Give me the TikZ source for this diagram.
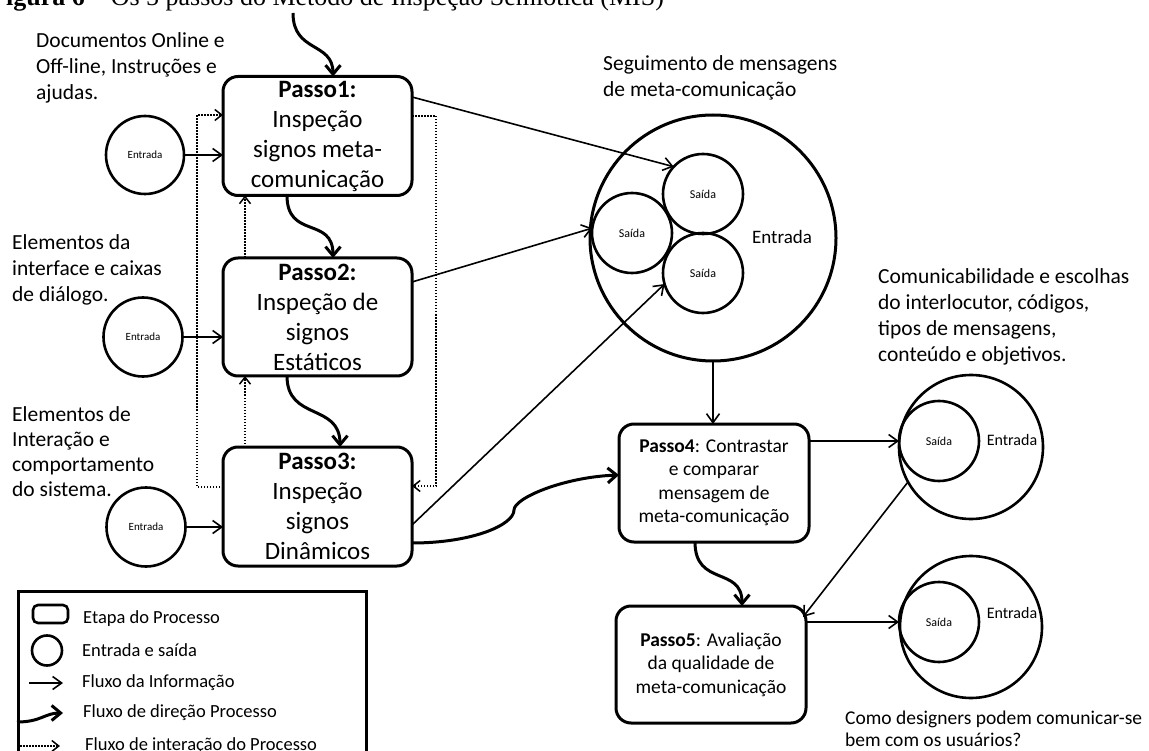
\documentclass[tikz,border=0pt]{standalone}
\usepackage{fontspec}
\setmainfont{Carlito}
\newfontfamily\capfont{Liberation Serif}
\usetikzlibrary{arrows.meta,calc}
\begin{document}
\begin{tikzpicture}[x=1pt,y=-1pt,
  stepbox/.style={draw,line width=3pt,rounded corners=15pt,minimum width=189pt,minimum height=119pt,inner sep=0pt,outer sep=0pt,align=center,font=\fontsize{25}{30}\selectfont},
  stepboxb/.style={stepbox,font=\fontsize{19.5}{23.5}\selectfont,minimum width=190pt,minimum height=118pt},
  io/.style={draw,circle,line width=2.6pt,inner sep=0pt,outer sep=0pt},
  info/.style={line width=1.6pt,-{Straight Barb[length=9pt,width=13pt]}},
  proc/.style={line width=3pt,-{Straight Barb[length=9pt,width=15pt]}},
  inter/.style={line width=1.5pt,dash pattern=on 1.5pt off 1.5pt,-{Straight Barb[length=7pt,width=11pt]}},
  note/.style={align=left,inner sep=0pt,anchor=west,font=\fontsize{21.5}{26}\selectfont},
  legtxt/.style={inner sep=0pt,anchor=west,font=\fontsize{18.5}{22}\selectfont}
]
\clip (0,0) rectangle (1149,751);
\fill[white] (0,0) rectangle (1149,751);

% caption (cropped)
\node[anchor=base west,inner sep=0pt,font=\capfont\fontsize{26}{30}\selectfont] (cap) at (-10,6) {\textbf{Figura 6} – Os 5 passos do Método de Inspeção Semiótica (MIS)};

% process steps
\node[stepbox] (p1) at (317.5,136) {\textbf{Passo1:}\\Inspeção\\signos meta-\\comunicação};
\node[stepbox,minimum height=118pt] (p2) at (317.5,317) {\textbf{Passo2:}\\Inspeção de\\signos\\Estáticos};
\node[stepbox] (p3) at (317.5,506.5) {\textbf{Passo3:}\\Inspeção\\signos\\Dinâmicos};
\node[stepboxb] (p4) at (714,483) {\textbf{Passo4}: Contrastar\\e comparar\\mensagem de\\meta-comunicação};
\node[stepboxb,minimum height=117pt] (p5) at (711,664.5) {\textbf{Passo5}: Avaliação\\da qualidade de\\meta-comunicação};

% inputs on the left
\node[io,minimum size=78pt,font=\fontsize{11}{13}\selectfont] (e1) at (145,155) {Entrada};
\node[io,minimum size=79pt,font=\fontsize{11}{13}\selectfont] (e2) at (143,337) {Entrada};
\node[io,minimum size=79pt,font=\fontsize{11}{13}\selectfont] (e3) at (146,527) {Entrada};

% big circle
\node[io,line width=3pt,minimum size=246pt] (big) at (713,238) {};
\node[inner sep=0pt,font=\fontsize{19}{22}\selectfont] (bigtxt) at (782,237) {Entrada};
\node[io,minimum size=80pt,font=\fontsize{12}{14}\selectfont] (s1) at (703,194) {Saída};
\node[io,minimum size=80pt,font=\fontsize{12}{14}\selectfont] (s2) at (632,233) {Saída};
\node[io,minimum size=80pt,font=\fontsize{12}{14}\selectfont] (s3) at (703,273) {Saída};

% right circles
\node[io,minimum size=144pt] (ca) at (971,447) {};
\node[io,minimum size=80pt,font=\fontsize{12}{14}\selectfont] (sa) at (939,441) {Saída};
\node[inner sep=0pt,font=\fontsize{16}{19}\selectfont] (catxt) at (1012,440) {Entrada};
\node[io,minimum size=142pt] (cb) at (971,627) {};
\node[io,minimum size=80pt,font=\fontsize{12}{14}\selectfont] (sb) at (939,622) {Saída};
\node[inner sep=0pt,font=\fontsize{16}{19}\selectfont] (cbtxt) at (1012,613) {Entrada};

% notes
\node[note] (t1) at (36,68) {Documentos Online e\\Off-line, Instruções e\\ajudas.};
\node[note] (t2) at (12,270) {Elementos da\\interface e caixas\\de diálogo.};
\node[note,font=\fontsize{21.5}{25}\selectfont] (t3) at (12,452) {Elementos de\\Interação e\\comportamento\\do sistema.};
\node[note] (t4) at (603,78) {Seguimento de mensagens\\de meta-comunicação};
\node[note] (t5) at (878,317) {Comunicabilidade e escolhas\\do interlocutor, códigos,\\tipos de mensagens,\\conteúdo e objetivos.};
\node[note,font=\fontsize{19.5}{22}\selectfont] (t6) at (845,729) {Como designers podem comunicar-se\\bem com os usuários?};

% information flow
\draw[info] (e1) -- (e1 -| p1.west);
\draw[info] (e2) -- (e2 -| p2.west);
\draw[info] (e3) -- (e3 -| p3.west);
\draw[info] ([shift={(0,-39)}]p1.east) -- (s1.137);
\draw[info] ([shift={(0,-35)}]p2.east) -- (s2.173);
\draw[info] ([shift={(0,18.5)}]p3.east) -- (s3.196);
\draw[info] (big.south) -- (big.south |- p4.north);
\draw[info] (p4.east |- sa.west) -- (sa.west);
\draw[info] (p5.east |- sb.west) -- (sb.west);
\draw[info] (ca.209) -- ([shift={(-3,11)}]p5.north east);

% process direction
\coordinate (start) at (293,13);
\draw[proc] (start) .. controls +(0,40) and +(0,-35) .. ([shift={(15.5,0)}]p1.north);
\draw[proc] ([shift={(-30.5,0)}]p1.south) .. controls +(0,44) and +(0,-42) .. ([shift={(15.5,0)}]p2.north);
\draw[proc] ([shift={(-30.5,0)}]p2.south) .. controls +(0,45) and +(0,-44) .. ([shift={(22.5,0)}]p3.north);
\draw[proc] ([shift={(0,36.5)}]p3.east) .. controls +(60,0) and +(0,15) .. ++(102,-33) .. controls +(0,-12) and +(-55,2) .. ([shift={(0,-8)}]p4.west);
\draw[proc] ([shift={(-19,0)}]p4.south) .. controls +(0,45) and +(0,-40) .. ([shift={(31,0)}]p5.north);

% interaction flow
\draw[inter] ([shift={(0,-19.5)}]p3.west) -- ++(-26,0) |- ([shift={(0,-21)}]p1.west);
\draw[inter] ([shift={(0,-20)}]p1.east) -- ++(24,0) |- ([shift={(0,-20.5)}]p3.east);
\draw[inter] ([shift={(-72.5,0)}]p3.north) -- ([shift={(-72.5,0)}]p2.south);
\draw[inter] ([shift={(-72.5,0)}]p2.north) -- ([shift={(-72.5,0)}]p1.south);

% legend
\node[draw,line width=3pt,minimum width=348pt,minimum height=190pt,anchor=north west,inner sep=0pt] (leg) at (17,590) {};
\node[draw,line width=2.6pt,rounded corners=5pt,minimum width=35pt,minimum height=18pt,inner sep=0pt] (lgbox) at (50.5,614) {};
\node[io,minimum size=30pt] (lgcirc) at (47,650.5) {};
\coordinate (lga1) at (29,683); \coordinate (lga2) at (63,683);
\coordinate (lgb1) at (17,722); \coordinate (lgb2) at (63,713);
\coordinate (lgc1) at (20,746); \coordinate (lgc2) at (60,746);
\draw[info] (lga1) -- (lga2);
\draw[proc] (lgb1) .. controls +(24,0) and +(-18,0) .. (lgb2);
\draw[inter] (lgc1) -- (lgc2);
\node[legtxt] (l1) at (83,619) {Etapa do Processo};
\node[legtxt] (l2) at (82,650) {Entrada e saída};
\node[legtxt] (l3) at (82,683) {Fluxo da Informação};
\node[legtxt] (l4) at (83,713) {Fluxo de direção Processo};
\node[legtxt] (l5) at (85,746) {Fluxo de interação do Processo};
\end{tikzpicture}
\end{document}
